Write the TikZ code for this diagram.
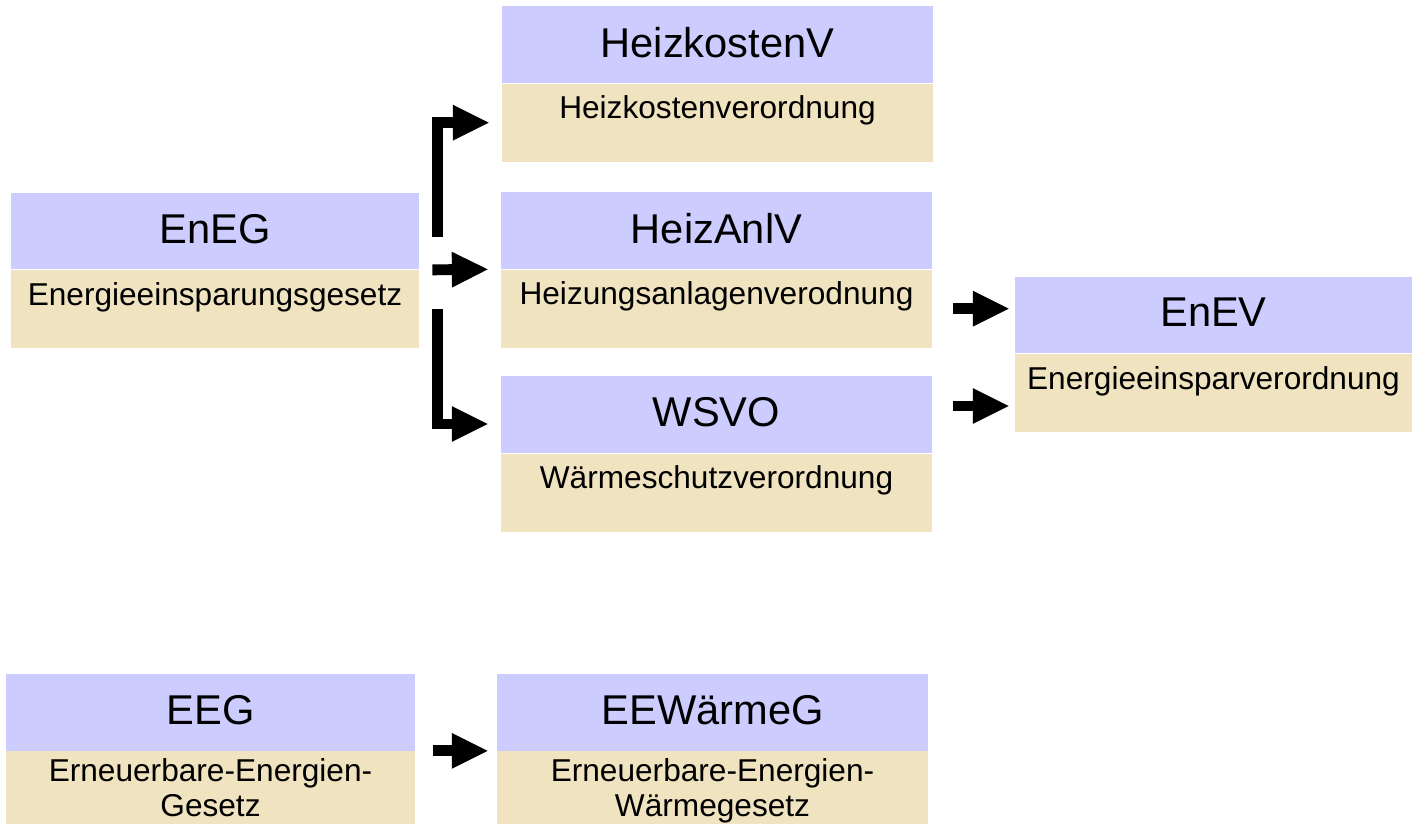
\documentclass[tikz,border=0pt]{standalone}
\usepackage{fontspec}
\setmainfont{Liberation Sans}
\usetikzlibrary{positioning,arrows.meta}
\definecolor{kopf}{HTML}{CCCCFF}
\definecolor{fuss}{HTML}{F0E3C0}

\begin{document}
\begin{tikzpicture}[x=0.02cm, y=-0.02cm,
        kurz/.style={fill=kopf, inner sep=0pt, minimum height=1.54cm, text depth=0.1cm, font=\fontsize{23.7}{28}\selectfont},
        lang/.style={fill=fuss, inner sep=0pt, align=center, text height=0.7cm, text depth=0.86cm, font=\fontsize{18}{19.9}\selectfont},
        zweizeilig/.style={text height=1.3cm, text depth=0.16cm},
        pfeil/.style={line width=6.2pt, -{Triangle[length=20.4pt, width=20.4pt, line width=0pt]}}]
        \useasboundingbox (0, 0) rectangle (1412, 824);

        \node[kurz, minimum width=8.16cm] (eneg) at (215, 231) {EnEG};
        \node[lang, minimum width=8.16cm, below=0pt of eneg] (eneglang) {Energieeinsparungsgesetz};

        \node[kurz, minimum width=8.62cm] (hkv) at (717.5, 44.5) {HeizkostenV};
        \node[lang, minimum width=8.62cm, below=0pt of hkv] (hkvlang) {Heizkostenverordnung};

        \node[kurz, minimum width=8.62cm] (hav) at (716.5, 230.5) {HeizAnlV};
        \node[lang, minimum width=8.62cm, below=0pt of hav] (havlang) {Heizungsanlagenverodnung};

        \node[kurz, minimum width=8.62cm] (wsvo) at (716.5, 414.5) {WSVO};
        \node[lang, minimum width=8.62cm, below=0pt of wsvo] (wsvolang) {Wärmeschutzverordnung};

        \node[kurz, minimum width=7.94cm] (enev) at (1213.5, 315) {EnEV};
        \node[lang, minimum width=7.94cm, below=0pt of enev] (enevlang) {Energieeinsparverordnung};

        \node[kurz, minimum width=8.18cm] (eeg) at (210.5, 712) {EEG};
        \node[lang, zweizeilig, minimum width=8.18cm, below=0pt of eeg] (eeglang) {Erneuerbare-Energien-\\Gesetz};

        \node[kurz, minimum width=8.62cm] (eew) at (712.5, 712) {EEWärmeG};
        \node[lang, zweizeilig, minimum width=8.62cm, below=0pt of eew] (eewlang) {Erneuerbare-Energien-\\Wärmegesetz};

        \coordinate (oben) at (437.5, 237);
        \coordinate (unten) at (437.5, 309);

        \draw[pfeil] (oben) |- ([xshift=-0.26cm]hkvlang.west);
        \draw[pfeil] ([xshift=0.26cm]eneg.south east) -- ([xshift=-0.26cm]hav.south west);
        \draw[pfeil] (unten) |- ([xshift=-0.26cm, yshift=-0.19cm]wsvo.west);
        \draw[pfeil] ([xshift=0.42cm]havlang.east) -- ([xshift=-0.12cm]havlang.east -| enev.west);
        \draw[pfeil] ([xshift=0.42cm, yshift=0.17cm]wsvo.east) -- ([xshift=-0.12cm, yshift=0.17cm]wsvo.east -| enev.west);
        \draw[pfeil] ([xshift=0.36cm]eeg.south east) -- ([xshift=-0.18cm]eew.south west);
\end{tikzpicture}
\end{document}
